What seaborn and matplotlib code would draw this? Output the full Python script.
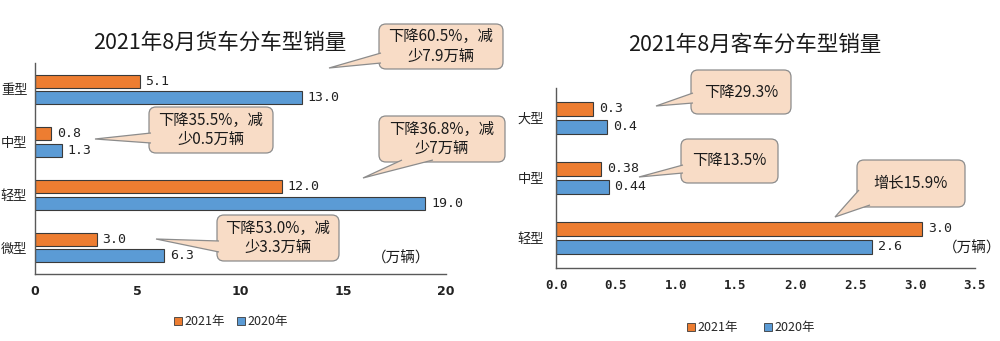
import matplotlib
matplotlib.use('Agg')
import matplotlib.pyplot as plt
import seaborn as sns
import pandas as pd
from matplotlib.patches import FancyBboxPatch, Polygon, Patch
from matplotlib.transforms import Affine2D

# ---------------- data ----------------
years = ['2021年', '2020年']

truck_types = ['重型', '中型', '轻型', '微型']
truck_2021 = [5.1, 0.8, 12.0, 3.0]
truck_2020 = [13.0, 1.3, 19.0, 6.3]
truck_labels_2021 = ['5.1', '0.8', '12.0', '3.0']
truck_labels_2020 = ['13.0', '1.3', '19.0', '6.3']
truck_notes = ['下降60.5%，减\n少7.9万辆', '下降35.5%，减\n少0.5万辆',
               '下降36.8%，减\n少7万辆', '下降53.0%，减\n少3.3万辆']
truck_ticks = [0, 5, 10, 15, 20]
truck_ticklabels = ['0', '5', '10', '15', '20']

bus_types = ['大型', '中型', '轻型']
bus_2021 = [0.31, 0.38, 3.06]
bus_2020 = [0.43, 0.44, 2.64]
bus_labels_2021 = ['0.3', '0.38', '3.0']
bus_labels_2020 = ['0.4', '0.44', '2.6']
bus_notes = ['下降29.3%', '下降13.5%', '增长15.9%']
bus_ticks = [0.0, 0.5, 1.0, 1.5, 2.0, 2.5, 3.0, 3.5]
bus_ticklabels = ['0.0', '0.5', '1.0', '1.5', '2.0', '2.5', '3.0', '3.5']

unit_text = '（万辆）'
truck_title = '2021年8月货车分车型销量'
bus_title = '2021年8月客车分车型销量'

# ---------------- style ----------------
ORANGE = '#ED7D31'
BLUE = '#5B9BD5'
EDGE = '#3a3a3a'
FILL = '#F8DCC6'
BORDER = '#8C8C8C'
AXC = '#595959'

sns.set_theme(style='white')
plt.rcParams['font.family'] = ['Noto Sans CJK SC', 'DejaVu Sans']
MONO = ['DejaVu Sans Mono', 'Noto Sans CJK SC']

W, H = 1000, 341
fig = plt.figure(figsize=(W / 100, H / 100), dpi=100)
fig.patch.set_facecolor('white')


def px_axes(x0, y0, x1, y1):
    return fig.add_axes([x0 / W, 1 - y1 / H, (x1 - x0) / W, (y1 - y0) / H])


axL = px_axes(35, 63, 446, 274)
axR = px_axes(556, 88, 975, 268)


def draw_bars(ax, types, v21, v20, lab21, lab20, width, gap, xlim, ticks, ticklabels,
              tickfont, tickweight, ypad):
    df = pd.DataFrame({
        'type': types * 2,
        'year': [years[0]] * len(types) + [years[1]] * len(types),
        'value': list(v21) + list(v20),
    })
    sns.barplot(data=df, y='type', x='value', hue='year', order=types, hue_order=years,
                palette=[ORANGE, BLUE], saturation=1, width=width, gap=gap,
                edgecolor=EDGE, linewidth=0.8, ax=ax, legend=False, errorbar=None)
    for cont, labs in zip(ax.containers, [lab21, lab20]):
        ax.bar_label(cont, labels=labs, padding=4, fontsize=9.5, family=MONO, color='#222222')
    n = len(types)
    ax.set_xlim(*xlim)
    ax.set_ylim(n - 0.5, -0.5)
    ax.set_xlabel('')
    ax.set_ylabel('')
    ax.set_xticks(ticks)
    ax.set_xticklabels(ticklabels, fontsize=9, family=tickfont, fontweight=tickweight,
                       color='#222222')
    ax.set_yticks(range(n))
    ax.set_yticklabels(types, fontsize=9.5, color='#222222')
    ax.set_yticks([i - 0.5 for i in range(n + 1)], minor=True)
    ax.tick_params(axis='y', which='major', length=0, pad=ypad)
    ax.tick_params(axis='y', which='minor', direction='in', length=4, width=0.9, color=AXC)
    ax.tick_params(axis='x', which='major', direction='in', length=4, width=0.9, color=AXC, pad=8)
    for s in ['top', 'right']:
        ax.spines[s].set_visible(False)
    for s in ['left', 'bottom']:
        ax.spines[s].set_color(AXC)
        ax.spines[s].set_linewidth(1.0)
    ax.set_facecolor('white')
    ax.grid(False)


draw_bars(axL, truck_types, truck_2021, truck_2020, truck_labels_2021, truck_labels_2020,
          0.62, 0.2, (0, 20), truck_ticks, truck_ticklabels, ['DejaVu Sans'], 'bold', 5.5)
draw_bars(axR, bus_types, bus_2021, bus_2020, bus_labels_2021, bus_labels_2020,
          0.60, 0.19, (0, 3.5), bus_ticks, bus_ticklabels, MONO, 'bold', 8.5)

# ---------------- callouts (figure pixel coords, origin top-left) ----------------
PX = Affine2D().scale(1 / W, 1 / H) + fig.transFigure


def callout(box, tip, base, text, fs=11):
    x0, y0, x1, y1 = box
    bb = FancyBboxPatch((x0, H - y1), x1 - x0, y1 - y0,
                        boxstyle='round,pad=0,rounding_size=7',
                        fc=FILL, ec=BORDER, lw=0.9, transform=PX, zorder=5)
    fig.add_artist(bb)
    pts = [(base[0][0], H - base[0][1]), (tip[0], H - tip[1]), (base[1][0], H - base[1][1])]
    wedge = Polygon(pts, closed=False, fc=FILL, ec=BORDER, lw=0.9, transform=PX, zorder=6)
    fig.add_artist(wedge)
    fig.text((x0 + x1) / 2 / W, 1 - (y0 + y1) / 2 / H, text, ha='center', va='center',
             fontsize=fs, linespacing=1.2, color='#1a1a1a', zorder=7, multialignment='center')


# left chart callouts
callout((379, 24, 503, 69), (329, 68), [(381, 53), (381, 63)], truck_notes[0])
callout((149, 107, 273, 153), (95, 139), [(151, 133), (151, 143)], truck_notes[1])
callout((379, 116, 505, 162), (363, 178), [(402, 160), (433, 160)], truck_notes[2])
callout((217, 215, 339, 261), (156, 239), [(219, 241), (219, 252)], truck_notes[3])

# right chart callouts
callout((691, 70, 791, 114), (656, 106), [(693, 93), (693, 103)], bus_notes[0])
callout((681, 139, 778, 183), (639, 177), [(683, 165), (683, 173)], bus_notes[1])
callout((857, 160, 965, 207), (835, 217), [(859, 190), (870, 205)], bus_notes[2])

# unit labels
fig.text(401 / W, 1 - 258 / H, unit_text, ha='center', va='center', fontsize=10.5, color='#1a1a1a')
fig.text(972 / W, 1 - 248 / H, unit_text, ha='center', va='center', fontsize=10.5, color='#1a1a1a')

# titles
fig.text(220 / W, 1 - 43 / H, truck_title, ha='center', va='center', fontsize=15.5, color='#1a1a1a')
fig.text(755 / W, 1 - 45 / H, bus_title, ha='center', va='center', fontsize=15.5, color='#1a1a1a')

# legends
handles = [Patch(fc=ORANGE, ec=EDGE, lw=0.6), Patch(fc=BLUE, ec=EDGE, lw=0.6)]
fig.legend(handles, years, loc='center', bbox_to_anchor=(231 / W, 1 - 322 / H), ncol=2,
           frameon=False, handlelength=0.6, handleheight=0.6, handletextpad=0.2,
           columnspacing=1.0, fontsize=9, borderpad=0)
fig.legend(handles, years, loc='center', bbox_to_anchor=(751 / W, 1 - 328 / H), ncol=2,
           frameon=False, handlelength=0.6, handleheight=0.6, handletextpad=0.2,
           columnspacing=2.1, fontsize=9, borderpad=0)

fig.savefig('out.png', dpi=100, facecolor='white')
